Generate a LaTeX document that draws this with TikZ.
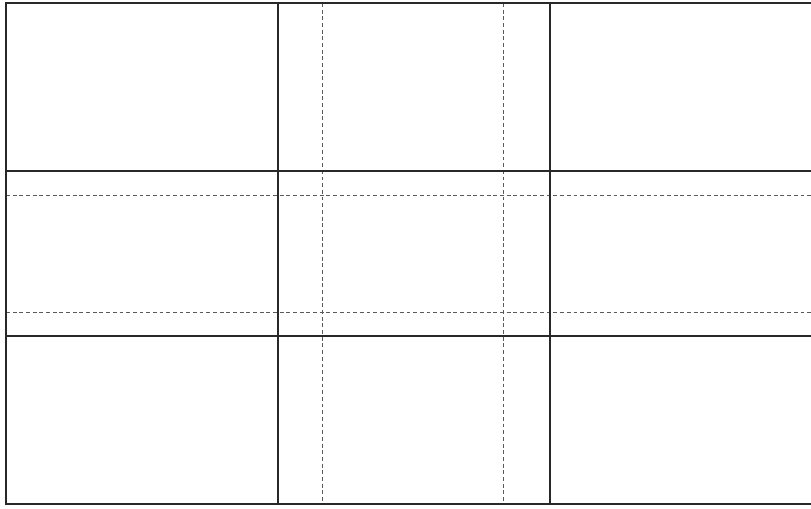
\documentclass[tikz,border=0pt]{standalone}
\usetikzlibrary{backgrounds}
\definecolor{gridInk}{RGB}{40,40,40}
\definecolor{gridGray}{RGB}{90,90,90}
\tikzset{
  thirdline/.style={draw=gridInk, line width=1.15pt, line cap=rect},
  goldline/.style={draw=gridGray, line width=.45pt, dash pattern=on 2.2pt off 1.6pt}
}

\begin{document}
\begin{tikzpicture}[x=0.02cm, y=-0.02cm]
\path[use as bounding box, fill=white] (0,0) rectangle (811,509);

% golden-section guides
\draw[goldline] (322,3) -- (322,504);
\draw[goldline] (503,3) -- (503,504);
\draw[goldline] (6,195) -- (811,195);
\draw[goldline] (6,312) -- (811,312);

% thirds
\draw[thirdline] (278,3) -- (278,504);
\draw[thirdline] (550,3) -- (550,504);
\draw[thirdline] (6,171) -- (811,171);
\draw[thirdline] (6,336) -- (811,336);

% frame, open on the right
\draw[thirdline] (811,3) -- (6,3) -- (6,504) -- (811,504);
\end{tikzpicture}
\end{document}
